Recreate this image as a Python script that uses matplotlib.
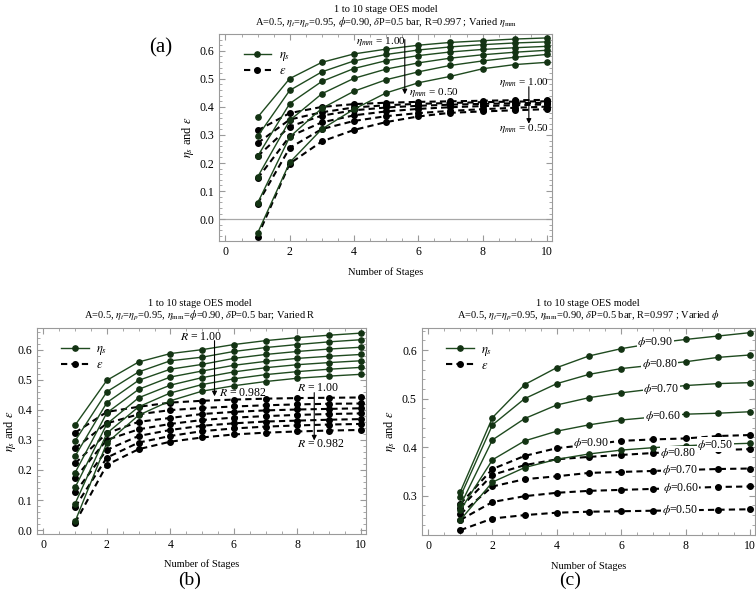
import matplotlib
matplotlib.use("Agg")
import matplotlib.pyplot as plt
from matplotlib.ticker import MultipleLocator

plt.rcParams["font.family"] = ["Liberation Serif", "DejaVu Serif"]
plt.rcParams["mathtext.fontset"] = "stix"

stages = [1, 2, 3, 4, 5, 6, 7, 8, 9, 10]

# (a) varied eta_mm, 1.00 -> 0.50
eta_s_mm = [
    [0.363, 0.501, 0.559, 0.589, 0.606, 0.620, 0.630, 0.636, 0.642, 0.646],
    [0.295, 0.459, 0.525, 0.564, 0.587, 0.603, 0.614, 0.622, 0.628, 0.632],
    [0.224, 0.412, 0.491, 0.537, 0.565, 0.583, 0.596, 0.605, 0.611, 0.616],
    [0.150, 0.352, 0.447, 0.502, 0.535, 0.557, 0.574, 0.586, 0.595, 0.602],
    [0.057, 0.293, 0.395, 0.456, 0.497, 0.525, 0.548, 0.564, 0.577, 0.587],
    [-0.050, 0.202, 0.321, 0.392, 0.450, 0.486, 0.509, 0.536, 0.551, 0.559],
]
eps_mm = [
    [0.316, 0.378, 0.400, 0.410, 0.415, 0.418, 0.420, 0.422, 0.424, 0.425],
    [0.271, 0.355, 0.381, 0.398, 0.406, 0.411, 0.414, 0.417, 0.419, 0.420],
    [0.224, 0.330, 0.369, 0.388, 0.398, 0.404, 0.408, 0.411, 0.413, 0.415],
    [0.145, 0.295, 0.345, 0.370, 0.384, 0.393, 0.399, 0.403, 0.406, 0.409],
    [0.055, 0.254, 0.321, 0.350, 0.367, 0.378, 0.386, 0.392, 0.397, 0.401],
    [-0.062, 0.198, 0.277, 0.318, 0.346, 0.366, 0.379, 0.384, 0.388, 0.392],
]

# (b) varied R, 1.00 -> 0.982
eta_s_R = [
    [0.349, 0.498, 0.559, 0.587, 0.600, 0.617, 0.630, 0.640, 0.648, 0.655],
    [0.297, 0.460, 0.526, 0.563, 0.575, 0.594, 0.607, 0.617, 0.626, 0.633],
    [0.246, 0.424, 0.498, 0.535, 0.551, 0.571, 0.584, 0.594, 0.602, 0.608],
    [0.191, 0.390, 0.468, 0.509, 0.529, 0.548, 0.561, 0.571, 0.578, 0.584],
    [0.142, 0.353, 0.440, 0.482, 0.507, 0.526, 0.540, 0.550, 0.557, 0.563],
    [0.088, 0.322, 0.410, 0.456, 0.484, 0.503, 0.517, 0.527, 0.535, 0.541],
    [0.029, 0.290, 0.382, 0.430, 0.462, 0.480, 0.494, 0.505, 0.512, 0.518],
]
eps_R = [
    [0.324, 0.393, 0.410, 0.424, 0.430, 0.434, 0.437, 0.439, 0.440, 0.441],
    [0.272, 0.355, 0.385, 0.399, 0.406, 0.411, 0.415, 0.418, 0.420, 0.421],
    [0.222, 0.322, 0.360, 0.373, 0.386, 0.393, 0.398, 0.401, 0.403, 0.405],
    [0.173, 0.300, 0.335, 0.353, 0.366, 0.374, 0.379, 0.383, 0.386, 0.388],
    [0.125, 0.267, 0.313, 0.333, 0.347, 0.355, 0.361, 0.364, 0.367, 0.369],
    [0.077, 0.241, 0.291, 0.313, 0.329, 0.338, 0.344, 0.348, 0.351, 0.353],
    [0.024, 0.217, 0.269, 0.294, 0.308, 0.318, 0.324, 0.328, 0.331, 0.333],
]

# (c) varied phi, 0.90 -> 0.50
phi_values = ["0.90", "0.80", "0.70", "0.60", "0.50"]
eta_s_phi = [
    [0.308, 0.461, 0.529, 0.564, 0.588, 0.603, 0.614, 0.622, 0.629, 0.636],
    [0.298, 0.446, 0.500, 0.531, 0.550, 0.562, 0.569, 0.576, 0.585, 0.590],
    [0.280, 0.415, 0.459, 0.487, 0.502, 0.512, 0.520, 0.527, 0.531, 0.533],
    [0.270, 0.374, 0.413, 0.433, 0.446, 0.456, 0.462, 0.468, 0.470, 0.473],
    [0.250, 0.328, 0.358, 0.375, 0.386, 0.394, 0.399, 0.403, 0.406, 0.408],
]
eps_phi = [
    [0.283, 0.355, 0.382, 0.398, 0.405, 0.413, 0.416, 0.418, 0.423, 0.425],
    [0.275, 0.343, 0.363, 0.375, 0.380, 0.384, 0.388, 0.391, 0.394, 0.396],
    [0.262, 0.319, 0.334, 0.340, 0.347, 0.349, 0.351, 0.353, 0.355, 0.356],
    [0.250, 0.287, 0.299, 0.306, 0.310, 0.312, 0.314, 0.316, 0.318, 0.319],
    [0.229, 0.253, 0.260, 0.265, 0.267, 0.268, 0.269, 0.270, 0.271, 0.272],
]

GREEN = "#1f4a1f"
W, H = 756, 595


def fx(px):
    return px / W


def fy(py):
    return 1 - py / H


def plot_sets(ax, solid, dashed):
    for s in solid:
        ax.plot(stages, s, color=GREEN, lw=1.0, marker="o", ms=3.8,
                mfc="#133313", mec="#133313", zorder=3)
    for d in dashed:
        ax.plot(stages, d, color="black", lw=1.5, ls=(0, (3, 2)), marker="o",
                ms=4.0, mfc="black", mec="black", zorder=2)


def style(ax, ylim, ymaj, ymin):
    ax.set_xlim(-0.2, 10.16)
    ax.set_ylim(*ylim)
    ax.xaxis.set_major_locator(MultipleLocator(2))
    ax.xaxis.set_minor_locator(MultipleLocator(0.5))
    ax.yaxis.set_major_locator(MultipleLocator(ymaj))
    ax.yaxis.set_minor_locator(MultipleLocator(ymin))
    ax.yaxis.set_major_formatter(plt.FuncFormatter(lambda v, p: f"{v:.1f}"))
    ax.tick_params(which="both", direction="in", top=True, right=True,
                   color="#9a9a9a", labelsize=8.5)
    ax.tick_params(which="major", length=4)
    ax.tick_params(which="minor", length=2)
    for sp in ax.spines.values():
        sp.set_color("#9a9a9a")
    ax.set_xlabel("Number of Stages", fontsize=7.5)
    ax.xaxis.set_label_coords(0.5, -0.125)
    ax.set_ylabel(r"$\eta_s$ and $\varepsilon$", fontsize=9)


def legend(ax):
    ax.plot([], [], color=GREEN, lw=1.0, marker="o", ms=3.8, mfc="#133313",
            mec="#133313", label=r"$\eta_s$")
    ax.plot([], [], color="black", lw=1.5, ls=(0, (3, 2)), marker="o", ms=4.0,
            label=r"$\varepsilon$")
    ax.legend(loc="upper left", bbox_to_anchor=(0.04, 0.98), frameon=False,
              fontsize=9, handlelength=2.2, handletextpad=0.6,
              labelspacing=0.15)


def titles(px_center, py1, py2, sub):
    fig.text(fx(px_center), fy(py1), "1 to 10 stage OES model", ha="center",
             va="center", fontsize=7.5)
    fig.text(fx(px_center), fy(py2), sub, ha="center", va="center",
             fontsize=7.5)


arrow = dict(arrowstyle="-|>", color="black", lw=0.8, mutation_scale=7,
             shrinkA=0, shrinkB=0)

fig = plt.figure(figsize=(W / 100, H / 100), dpi=100)

# ---------------- (a) ----------------
axa = fig.add_axes([fx(219), fy(241), fx(552) - fx(219), fy(34) - fy(241)])
plot_sets(axa, eta_s_mm, eps_mm)
axa.axhline(0, color="#a8a8a8", lw=0.9, zorder=1)
style(axa, (-0.078, 0.66), 0.1, 0.02)
axa.yaxis.set_label_coords(-0.068, 0.5)
legend(axa)
axa.text(4.83, 0.632, r"$\eta_{mm}$ = 1.00", ha="center", va="center", fontsize=8)
axa.annotate("", xy=(5.58, 0.445), xytext=(5.58, 0.64), arrowprops=arrow)
axa.text(5.7, 0.451, r"$\eta_{mm}$ = 0.50", ha="left", va="center", fontsize=8)
axa.text(9.3, 0.486, r"$\eta_{mm}$ = 1.00", ha="center", va="center", fontsize=8)
axa.annotate("", xy=(9.44, 0.34), xytext=(9.44, 0.472), arrowprops=arrow)
axa.text(9.3, 0.322, r"$\eta_{mm}$ = 0.50", ha="center", va="center", fontsize=8)
titles(386, 9, 23, r"A=0.5, $\eta_t$=$\eta_p$=0.95, $\phi$=0.90, $\delta$P=0.5 bar, R=0.997 ; Varied $\eta_{\rm mm}$")
fig.text(fx(161), fy(48), "(a)", ha="center", va="center", fontsize=15)

# ---------------- (b) ----------------
axb = fig.add_axes([fx(37), fy(534), fx(366) - fx(37), fy(328) - fy(534)])
plot_sets(axb, eta_s_R, eps_R)
style(axb, (-0.013, 0.672), 0.1, 0.02)
axb.yaxis.set_label_coords(-0.058, 0.5)
legend(axb)
axb.text(4.95, 0.642, r"$R$ = 1.00", ha="center", va="center", fontsize=8.5)
axb.annotate("", xy=(5.39, 0.445), xytext=(5.39, 0.63), arrowprops=arrow)
axb.text(6.29, 0.457, r"$R$ = 0.982", ha="center", va="center", fontsize=8.5)
axb.text(8.64, 0.471, r"$R$ = 1.00", ha="center", va="center", fontsize=8.5)
axb.annotate("", xy=(8.53, 0.298), xytext=(8.53, 0.457), arrowprops=arrow)
axb.text(8.75, 0.285, r"$R$ = 0.982", ha="center", va="center", fontsize=8.5)
titles(200, 304, 316, r"A=0.5, $\eta_t$=$\eta_p$=0.95, $\eta_{\rm mm}$=$\phi$=0.90, $\delta$P=0.5 bar; Varied R")
fig.text(fx(190), fy(580), "(b)", ha="center", va="center", fontsize=14)

# ---------------- (c) ----------------
axc = fig.add_axes([fx(421.7), fy(535), fx(755) - fx(421.7), fy(328.3) - fy(535)])
plot_sets(axc, eta_s_phi, eps_phi)
style(axc, (0.219, 0.645), 0.1, 0.02)
axc.yaxis.set_label_coords(-0.072, 0.5)
legend(axc)
lbl_box = dict(facecolor="white", edgecolor="none", pad=0.3)
solid_lbl_pos = [(7.06, 0.617), (7.2, 0.572), (7.25, 0.519), (7.3, 0.465), (8.92, 0.405)]
dash_lbl_pos = [(5.07, 0.409), (7.78, 0.388), (7.83, 0.353), (7.85, 0.316), (7.83, 0.271)]
for v, (x, y) in zip(phi_values, solid_lbl_pos):
    axc.text(x, y, r"$\phi$=" + v, ha="center", va="center", fontsize=8.5,
             bbox=lbl_box, zorder=5)
for v, (x, y) in zip(phi_values, dash_lbl_pos):
    axc.text(x, y, r"$\phi$=" + v, ha="center", va="center", fontsize=8.5,
             bbox=lbl_box, zorder=5)
titles(588, 304, 316, r"A=0.5, $\eta_t$=$\eta_p$=0.95, $\eta_{\rm mm}$=0.90, $\delta$P=0.5 bar, R=0.997 ; Varied $\phi$")
fig.text(fx(570), fy(580), "(c)", ha="center", va="center", fontsize=14)

fig.savefig("out.png", dpi=100)
